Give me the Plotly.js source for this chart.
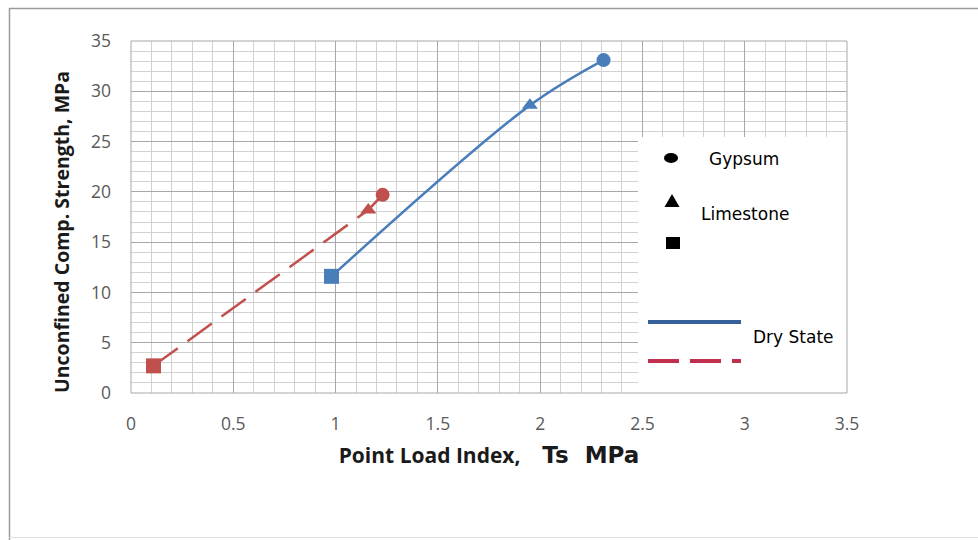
<!DOCTYPE html>
<html>
<head>
<meta charset="utf-8">
<script src="https://cdn.plot.ly/plotly-3.0.1.min.js"></script>
<style>html,body{margin:0;padding:0;background:#fff;}#chart{width:978px;height:540px;}</style>
</head>
<body>
<div id="chart"></div>
<script>
// ---- data ----
const seriesNames = ["Dry State", "Wet State"];
const markerSymbols = ["square", "triangle-up", "circle"];
const dryX = [0.98, 1.95, 2.31];
const dryY = [11.6, 28.6, 33.1];
const wetX = [0.11, 1.16, 1.23];
const wetY = [2.7, 18.2, 19.7];
const xTickVals = [0, 0.5, 1, 1.5, 2, 2.5, 3, 3.5];
const xTickText = ["0", "0.5", "1", "1.5", "2", "2.5", "3", "3.5"];
const yTickVals = [0, 5, 10, 15, 20, 25, 30, 35];
const yTickText = ["0", "5", "10", "15", "20", "25", "30", "35"];
const legendLabels = ["Gypsum", "Limestone", "", "Dry State"];

// ---- layout helpers (pixel -> paper) ----
const L = 131, R = 847, T = 41, B = 393;
const px = x => (x - L) / (R - L);
const py = y => (B - y) / (B - T);

const blue = "#4a7ebb", red = "#c0504d";

const traces = [
  {x: dryX, y: dryY, name: seriesNames[0], type: "scatter", mode: "lines+markers",
   line: {color: blue, width: 2.5, shape: "spline", smoothing: 1},
   marker: {symbol: markerSymbols, size: [15, 14, 14], color: blue, opacity: 1, line: {width: 0}}},
  {x: wetX, y: wetY, name: seriesNames[1], type: "scatter", mode: "lines+markers",
   line: {color: red, width: 2.5, dash: "30px,12px"},
   marker: {symbol: markerSymbols, size: [15, 14, 14], color: red, opacity: 1, line: {width: 0}}}
];

const lgFont = {family: "DejaVu Sans", size: 17, color: "#000"};
const tickFont = {family: "Open Sans", size: 17.5, color: "#595959"};

const layout = {
  width: 978, height: 540,
  margin: {l: L, r: 978 - R, t: T, b: 540 - B},
  paper_bgcolor: "#fff", plot_bgcolor: "#fff",
  showlegend: false,
  font: {family: "Open Sans", size: 16, color: "#595959"},
  xaxis: {range: [0, 3.5], tickvals: xTickVals, ticktext: xTickText, ticks: "",
    showgrid: true, gridcolor: "#a8a8a8", gridwidth: 1, zeroline: false, showline: false,
    ticklabelstandoff: 18, tickfont: tickFont,
    minor: {dtick: 0.1, showgrid: true, gridcolor: "#d2d2d2", gridwidth: 1},
    title: {text: "Point Load Index,&nbsp;&nbsp;&nbsp;&nbsp;<span style='font-family:DejaVu Sans;font-size:23px'>Ts&nbsp;&nbsp;MPa</span>",
      font: {family: "Open Sans", size: 21, color: "#1a1a1a", weight: "bold"}, standoff: 14}},
  yaxis: {range: [0, 35], tickvals: yTickVals, ticktext: yTickText, ticks: "",
    showgrid: true, gridcolor: "#a8a8a8", gridwidth: 1, zeroline: false, showline: false,
    ticklabelstandoff: 19, tickfont: tickFont,
    minor: {dtick: 1, showgrid: true, gridcolor: "#d2d2d2", gridwidth: 1}},
  shapes: [
    // outer chart frame
    {type: "line", xref: "paper", yref: "paper", x0: px(9), x1: px(990), y0: py(8.5), y1: py(8.5), line: {color: "#9a9a9a", width: 1.5}},
    {type: "line", xref: "paper", yref: "paper", x0: px(9.5), x1: px(9.5), y0: py(8), y1: py(545), line: {color: "#9a9a9a", width: 1.5}},
    {type: "line", xref: "paper", yref: "paper", x0: px(9), x1: px(990), y0: py(537.5), y1: py(537.5), line: {color: "#e0e0e0", width: 1}},
    // legend box
    {type: "rect", xref: "paper", yref: "paper", layer: "above", x0: px(638), x1: px(847), y0: py(393), y1: py(137), fillcolor: "#fff", line: {width: 0}},
    // plot border
    {type: "rect", xref: "paper", yref: "paper", layer: "above", x0: 0, x1: 1, y0: 0, y1: 1, line: {color: "#a8a8a8", width: 1}},
    // legend symbols
    {type: "circle", xref: "paper", yref: "paper", layer: "above", x0: px(664), x1: px(678), y0: py(163), y1: py(153), fillcolor: "#000", line: {width: 0}},
    {type: "path", xref: "paper", yref: "paper", layer: "above", path: `M ${px(664.5)} ${py(207)} L ${px(679.5)} ${py(207)} L ${px(672)} ${py(194)} Z`, fillcolor: "#000", line: {width: 0}},
    {type: "rect", xref: "paper", yref: "paper", layer: "above", x0: px(666), x1: px(680), y0: py(249), y1: py(237), fillcolor: "#000", line: {width: 0}},
    {type: "line", xref: "paper", yref: "paper", layer: "above", x0: px(648), x1: px(741), y0: py(322), y1: py(322), line: {color: "#36609a", width: 4}},
    {type: "line", xref: "paper", yref: "paper", layer: "above", x0: px(648), x1: px(741), y0: py(361), y1: py(361), line: {color: "#c0304d", width: 4, dash: "31px,11px"}}
  ],
  annotations: [
    {xref: "paper", yref: "paper", x: px(61), y: py(232), text: "Unconfined Comp. Strength, MPa", textangle: -90, showarrow: false,
     xanchor: "center", yanchor: "middle", font: {family: "Open Sans", size: 19.5, color: "#1a1a1a", weight: "bold"}},
    {xref: "paper", yref: "paper", x: px(707), y: py(159), text: legendLabels[0], showarrow: false, xanchor: "left", yanchor: "middle", font: lgFont},
    {xref: "paper", yref: "paper", x: px(699), y: py(214), text: legendLabels[1], showarrow: false, xanchor: "left", yanchor: "middle", font: lgFont},
    {xref: "paper", yref: "paper", x: px(751), y: py(337), text: legendLabels[3], showarrow: false, xanchor: "left", yanchor: "middle", font: lgFont}
  ]
};

Plotly.newPlot("chart", traces, layout, {staticPlot: true, displayModeBar: false});
</script>
</body>
</html>
